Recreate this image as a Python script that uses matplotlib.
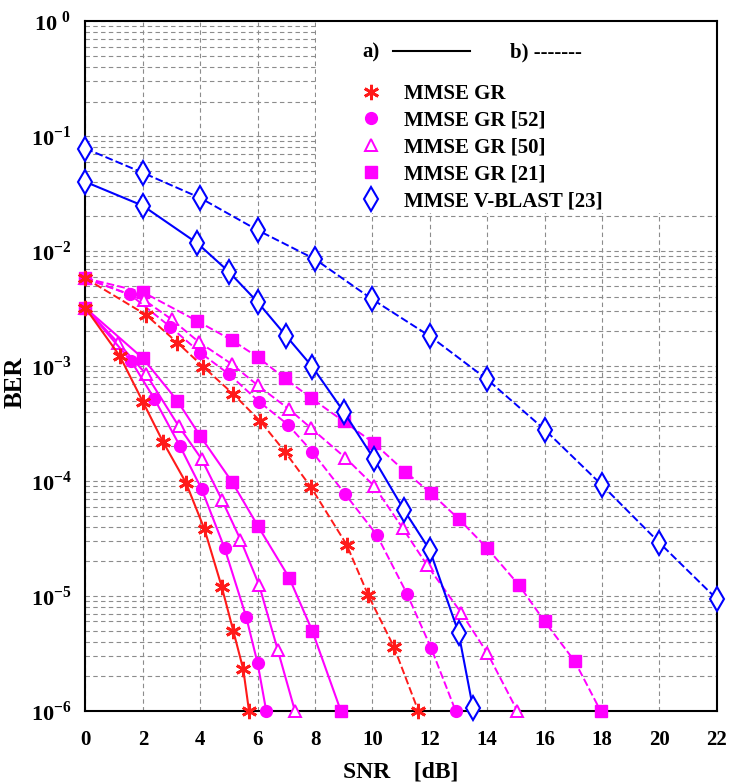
import matplotlib
matplotlib.use('Agg')
import matplotlib.pyplot as plt
from matplotlib.patches import Rectangle
from matplotlib.ticker import NullFormatter

plt.rcParams['font.family'] = ['Liberation Serif', 'DejaVu Serif']
plt.rcParams['font.weight'] = 'bold'
plt.rcParams['mathtext.fontset'] = 'custom'
plt.rcParams['mathtext.rm'] = 'Liberation Serif:bold'
plt.rcParams['mathtext.bf'] = 'Liberation Serif:bold'

# ---- data: a) solid curves ----
gr_a_x = [0, 1.2, 2.0, 2.7, 3.5, 4.15, 4.75, 5.15, 5.5, 5.7]
gr_a_y = [3.2e-3, 1.22e-3, 4.9e-4, 2.2e-4, 9.7e-5, 3.8e-5, 1.2e-5, 5.0e-6, 2.3e-6, 1.0e-6]

gr52_a_x = [0, 1.6, 2.4, 3.3, 4.05, 4.85, 5.6, 6.0, 6.3]
gr52_a_y = [3.2e-3, 1.1e-3, 5.2e-4, 2.0e-4, 8.5e-5, 2.6e-5, 6.6e-6, 2.6e-6, 1.0e-6]

gr50_a_x = [0, 1.15, 2.1, 3.25, 4.05, 4.75, 5.4, 6.05, 6.7, 7.3]
gr50_a_y = [3.2e-3, 1.58e-3, 8.6e-4, 3.0e-4, 1.55e-4, 6.9e-5, 3.1e-5, 1.25e-5, 3.4e-6, 1.0e-6]

gr21_a_x = [0, 2.0, 3.2, 4.0, 5.1, 6.0, 7.1, 7.9, 8.9]
gr21_a_y = [3.2e-3, 1.17e-3, 5.0e-4, 2.46e-4, 9.9e-5, 4.1e-5, 1.44e-5, 5.0e-6, 1.0e-6]

vb_a_x = [0, 2, 3.9, 5, 6, 7, 7.9, 9, 10.05, 11.1, 12, 13, 13.5]
vb_a_y = [4.0e-2, 2.48e-2, 1.17e-2, 6.6e-3, 3.6e-3, 1.82e-3, 9.9e-4, 4.0e-4, 1.56e-4,
          5.6e-5, 2.5e-5, 4.8e-6, 1.07e-6]

# ---- b) dashed curves ----
gr_b_x = [0, 2.1, 3.2, 4.1, 5.15, 6.1, 6.95, 7.85, 9.1, 9.85, 10.75, 11.6]
gr_b_y = [5.8e-3, 2.8e-3, 1.6e-3, 9.9e-4, 5.7e-4, 3.3e-4, 1.8e-4, 8.9e-5, 2.8e-5,
          1.02e-5, 3.6e-6, 1.0e-6]

gr52_b_x = [0, 1.55, 2.95, 4.0, 5.0, 6.05, 7.05, 7.9, 9.05, 10.15, 11.2, 12.05, 12.9]
gr52_b_y = [5.8e-3, 4.2e-3, 2.2e-3, 1.31e-3, 8.5e-4, 4.9e-4, 3.1e-4, 1.8e-4, 7.7e-5,
            3.4e-5, 1.05e-5, 3.5e-6, 1.0e-6]

gr50_b_x = [0, 2.05, 3.0, 3.95, 5.1, 6.0, 7.1, 7.85, 9.05, 10.05, 11.05, 11.9, 13.1, 14.0, 15.05]
gr50_b_y = [5.8e-3, 3.75e-3, 2.55e-3, 1.62e-3, 1.04e-3, 6.8e-4, 4.2e-4, 2.9e-4, 1.6e-4,
            9.1e-5, 3.9e-5, 1.86e-5, 7.1e-6, 3.2e-6, 1.0e-6]

gr21_b_x = [0, 2.0, 3.9, 5.1, 6.0, 6.95, 7.85, 9.0, 10.05, 11.15, 12.05, 13.0, 14.0,
            15.1, 16.0, 17.05, 17.95]
gr21_b_y = [5.8e-3, 4.4e-3, 2.46e-3, 1.68e-3, 1.2e-3, 7.8e-4, 5.3e-4, 3.3e-4, 2.14e-4,
            1.2e-4, 7.8e-5, 4.7e-5, 2.6e-5, 1.25e-5, 6.0e-6, 2.7e-6, 1.0e-6]

vb_b_x = [0, 2, 4, 6, 8, 10, 12, 14, 16, 18, 20, 22]
vb_b_y = [7.8e-2, 4.8e-2, 2.9e-2, 1.52e-2, 8.5e-3, 3.8e-3, 1.82e-3, 7.65e-4, 2.8e-4,
          9.2e-5, 2.9e-5, 9.4e-6]

labels = ['MMSE GR', 'MMSE GR [52]', 'MMSE GR [50]', 'MMSE GR [21]', 'MMSE V-BLAST [23]']
xticks = list(range(0, 23, 2))
yticks = [1e-6, 1e-5, 1e-4, 1e-3, 1e-2, 1e-1, 1e0]
yticklabels = [r'$10^{{-6}}$', r'$10^{{-5}}$', r'$10^{{-4}}$', r'$10^{{-3}}$',
               r'$10^{{-2}}$', r'$10^{{-1}}$', r'$10^{\ 0}$']

RED = '#ff1a1a'
MAG = '#ff00ff'
BLUE = '#0000ff'

styles = {
    'gr': dict(color=RED, marker=(6, 2, 0), ms=11, mew=2.0, zorder=6),
    'gr52': dict(color=MAG, marker='o', ms=8.5, mfc=MAG, mew=1, zorder=4),
    'gr50': dict(color=MAG, marker='^', ms=8.5, mfc='white', mew=1.4, zorder=4),
    'gr21': dict(color=MAG, marker='s', ms=8, mfc=MAG, mew=1, zorder=3),
    'vb': dict(color=BLUE, marker='d', ms=12, mfc='white', mew=1.5, zorder=5),
}

series_a = [('gr21', gr21_a_x, gr21_a_y), ('gr50', gr50_a_x, gr50_a_y),
            ('gr52', gr52_a_x, gr52_a_y), ('gr', gr_a_x, gr_a_y), ('vb', vb_a_x, vb_a_y)]
series_b = [('gr21', gr21_b_x, gr21_b_y), ('gr50', gr50_b_x, gr50_b_y),
            ('gr52', gr52_b_x, gr52_b_y), ('gr', gr_b_x, gr_b_y), ('vb', vb_b_x, vb_b_y)]

fig = plt.figure(figsize=(7.3, 7.83), dpi=100)
ax = fig.add_axes([0.117, 0.092, 0.865, 0.881])
ax.set_yscale('log')
ax.set_xlim(0, 22)
ax.set_ylim(1e-6, 1)

for key, xs, ys in series_a:
    ax.plot(xs, ys, ls='-', lw=1.5, clip_on=False, **styles[key])
for key, xs, ys in series_b:
    ax.plot(xs, ys, ls=(0, (4, 1.6)), lw=1.4, clip_on=False, **styles[key])

ax.set_axisbelow(True)
ax.grid(True, which='major', axis='both', ls=(0, (4, 3)), color='#8c8c8c', lw=0.8)
ax.grid(True, which='minor', axis='y', ls=(0, (4, 3)), color='#8c8c8c', lw=0.8)
ax.yaxis.set_minor_formatter(NullFormatter())

ax.set_xticks(xticks)
ax.set_xticklabels([str(t) for t in xticks], fontsize=15, fontweight='bold')
ax.set_yticks(yticks)
ax.set_yticklabels(yticklabels, fontsize=16)
ax.tick_params(axis='both', which='both', length=0)
ax.tick_params(axis='x', pad=14)
ax.tick_params(axis='y', pad=10)

for sp in ax.spines.values():
    sp.set_linewidth(1.5)

ax.set_xlabel('SNR    [dB]', fontsize=17, fontweight='bold', labelpad=8)
ax.set_ylabel('BER', fontsize=18, fontweight='bold')
ax.yaxis.set_label_coords(-0.093, 0.477)

# white box behind the legend
ax.add_patch(Rectangle((0.365, 0.722), 0.635, 0.278, transform=ax.transAxes,
                       facecolor='white', edgecolor='none', zorder=1))

ax.text(0.438, 0.955, 'a)', transform=ax.transAxes, fontsize=15, fontweight='bold',
        va='center', zorder=7)
ax.plot([0.487, 0.609], [0.957, 0.957], transform=ax.transAxes, color='black', lw=1.5,
        zorder=7)
ax.text(0.672, 0.955, 'b) -------', transform=ax.transAxes, fontsize=15, fontweight='bold',
        va='center', zorder=7)

handles = []
for key in ['gr', 'gr52', 'gr50', 'gr21', 'vb']:
    st = dict(styles[key])
    st.pop('zorder')
    h, = ax.plot([], [], ls='none', **st)
    handles.append(h)
leg = ax.legend(handles, labels, loc='upper left', bbox_to_anchor=(0.435, 0.909),
                frameon=False, handlelength=1.0, handletextpad=1.1,
                borderpad=0, borderaxespad=0, labelspacing=0.33,
                prop={'weight': 'bold', 'size': 15})
leg.set_zorder(8)

fig.savefig('out.png', dpi=100)
